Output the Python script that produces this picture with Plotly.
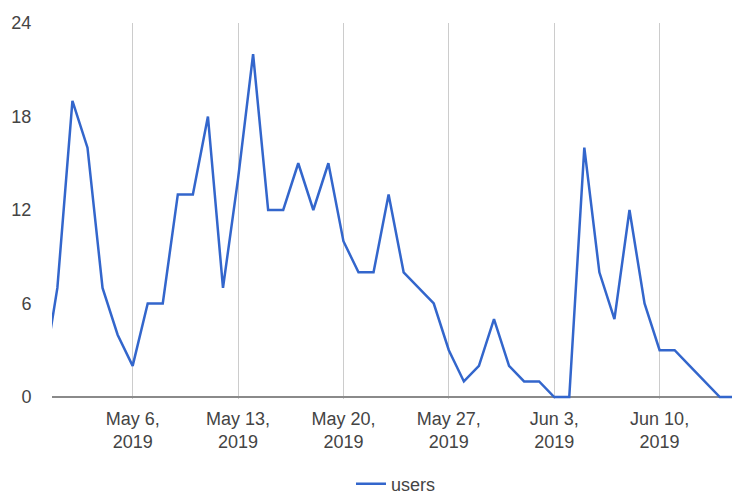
import pandas as pd
import plotly.graph_objects as go

dates = pd.date_range("2019-04-30", "2019-06-16", freq="D")
users = [1,
         7, 19, 16, 7, 4, 2, 6, 6, 13, 13, 18, 7, 14, 22, 12, 12, 15, 12, 15, 10,
         8, 8, 13, 8, 7, 6, 3, 1, 2, 5, 2,
         1, 1, 0, 0, 16, 8, 5, 12, 6, 3, 3, 2, 1, 0, 0, 1]

tick_dates = ["2019-05-06", "2019-05-13", "2019-05-20", "2019-05-27", "2019-06-03", "2019-06-10"]
tick_text = ["May 6,<br>2019", "May 13,<br>2019", "May 20,<br>2019", "May 27,<br>2019",
             "Jun 3,<br>2019", "Jun 10,<br>2019"]
y_ticks = [0, 6, 12, 18, 24]

fig = go.Figure()
fig.add_trace(go.Scatter(x=dates, y=users, mode="lines", name="users",
                         line=dict(color="#3366cc", width=2.5)))

font = dict(family="Arial, Liberation Sans, sans-serif", size=18, color="#444444")

# page body has an 8px margin, so the figure is sized to fit inside the window
fig.update_layout(
    width=732, height=485,
    margin=dict(l=44, r=0, t=15, b=94, autoexpand=False),
    paper_bgcolor="white", plot_bgcolor="white",
    font=font,
    showlegend=True,
    legend=dict(orientation="h", x=0.5, xanchor="center", y=-0.226, yanchor="middle",
                font=font, bgcolor="rgba(0,0,0,0)"),
    xaxis=dict(
        range=["2019-04-30 15:26", "2019-06-15 08:10"],
        tickvals=tick_dates, ticktext=tick_text,
        showgrid=True, gridcolor="#cccccc", gridwidth=1,
        ticks="outside", ticklen=3, tickcolor="rgba(0,0,0,0)",
        showline=False, zeroline=False, automargin=False,
    ),
    yaxis=dict(
        range=[-0.128, 24], tickvals=y_ticks,
        showgrid=False, zeroline=True, zerolinecolor="#8a8a8a", zerolinewidth=2,
        ticks="outside", ticklen=16, tickcolor="rgba(0,0,0,0)",
        showline=False, automargin=False,
    ),
)

fig.write_html("out.html")
